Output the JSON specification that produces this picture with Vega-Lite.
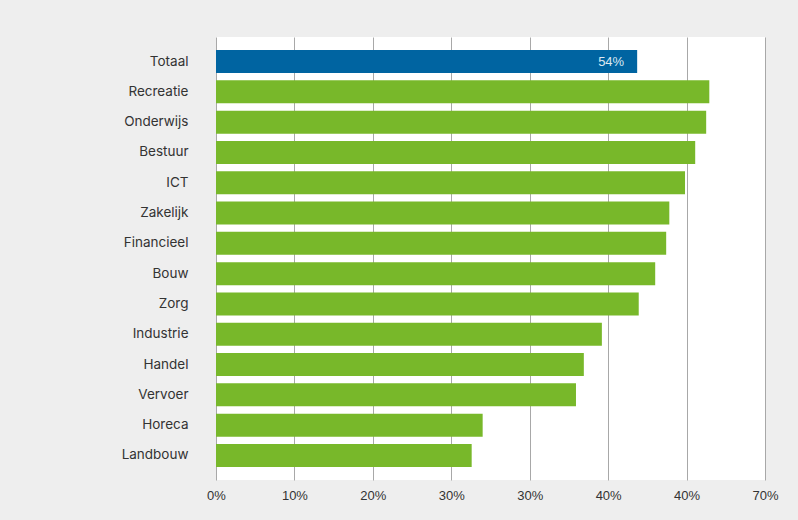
{
  "$schema": "https://vega.github.io/schema/vega-lite/v6.json",
  "width": 549,
  "height": 443,
  "autosize": {"type": "none"},
  "padding": {"left": 216, "top": 37, "right": 33, "bottom": 40},
  "background": "#eeeeee",
  "config": {
    "view": {"fill": "white", "stroke": null},
    "font": "Inter"
  },
  "data": {
    "values": [
      {"sector": "Totaal", "value": 0.537, "group": "totaal"},
      {"sector": "Recreatie", "value": 0.629, "group": "sector"},
      {"sector": "Onderwijs", "value": 0.625, "group": "sector"},
      {"sector": "Bestuur", "value": 0.611, "group": "sector"},
      {"sector": "ICT", "value": 0.598, "group": "sector"},
      {"sector": "Zakelijk", "value": 0.578, "group": "sector"},
      {"sector": "Financieel", "value": 0.574, "group": "sector"},
      {"sector": "Bouw", "value": 0.560, "group": "sector"},
      {"sector": "Zorg", "value": 0.539, "group": "sector"},
      {"sector": "Industrie", "value": 0.492, "group": "sector"},
      {"sector": "Handel", "value": 0.469, "group": "sector"},
      {"sector": "Vervoer", "value": 0.459, "group": "sector"},
      {"sector": "Horeca", "value": 0.340, "group": "sector"},
      {"sector": "Landbouw", "value": 0.326, "group": "sector"}
    ]
  },
  "encoding": {
    "y": {
      "field": "sector",
      "type": "nominal",
      "sort": null,
      "title": null,
      "scale": {"paddingInner": 0.24, "paddingOuter": 0.43},
      "axis": {
        "domain": false,
        "ticks": false,
        "labelPadding": 28,
        "labelFontSize": 13.5,
        "labelColor": "#333333",
        "labelFont": "Inter"
      }
    },
    "x": {
      "field": "value",
      "type": "quantitative",
      "title": null,
      "scale": {"domain": [0, 0.7], "nice": false},
      "axis": {
        "values": [0, 0.1, 0.2, 0.3, 0.4, 0.5, 0.6, 0.7],
        "labelExpr": "['0%','10%','20%','30%','30%','40%','40%','70%'][round(datum.value*10)]",
        "labelFlush": false,
        "domain": false,
        "ticks": false,
        "grid": true,
        "gridColor": "#a8a8a8",
        "gridWidth": 1,
        "gridOpacity": 1,
        "labelPadding": 9,
        "labelFontSize": 13,
        "labelColor": "#333333",
        "labelFont": "Liberation Sans"
      }
    }
  },
  "layer": [
    {
      "mark": {"type": "bar"},
      "encoding": {
        "color": {
          "field": "group",
          "type": "nominal",
          "scale": {"domain": ["totaal", "sector"], "range": ["#0064a1", "#78b82a"]},
          "legend": null
        }
      }
    },
    {
      "transform": [{"filter": "datum.group === 'totaal'"}],
      "mark": {"type": "text", "align": "right", "dx": -13, "fontSize": 13, "color": "#dde8f2", "font": "Liberation Sans"},
      "encoding": {
        "text": {"field": "value", "type": "quantitative", "format": ".0%"}
      }
    }
  ]
}
